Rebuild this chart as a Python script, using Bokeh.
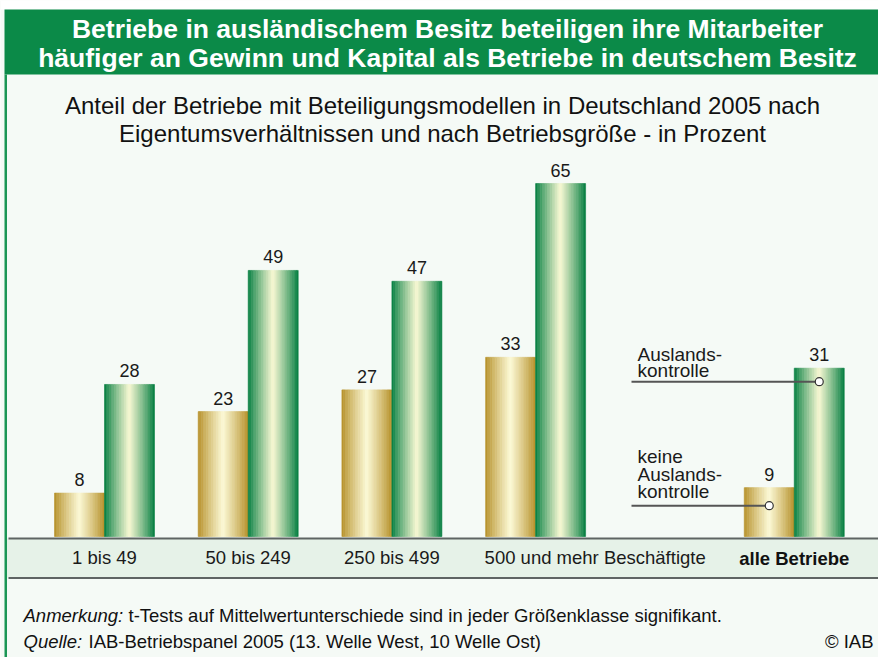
from bokeh.plotting import figure
from bokeh.models import Range1d, ColumnDataSource, BoxAnnotation
from bokeh.embed import file_html
from bokeh.resources import INLINE
from bokeh.core.properties import value

# ---------------- data ----------------
categories = ["1 bis 49", "50 bis 249", "250 bis 499", "500 und mehr Beschäftigte", "alle Betriebe"]
keine_auslandskontrolle = [8, 23, 27, 33, 9]
auslandskontrolle = [28, 49, 47, 65, 31]
group_pos = [0, 1, 2, 3, 4.8]

title_lines = ["Betriebe in ausländischem Besitz beteiligen ihre Mitarbeiter",
               "häufiger an Gewinn und Kapital als Betriebe in deutschem Besitz"]
subtitle_lines = ["Anteil der Betriebe mit Beteiligungsmodellen in Deutschland 2005 nach",
                  "Eigentumsverhältnissen und nach Betriebsgröße - in Prozent"]

# ---------------- layout helpers ----------------
W, H = 878, 657
X0PX, XSTEP = 104.0, 143.7   # pixel of first group centre, pixels per group step
Y0PX, YSTEP = 536.0, 5.43    # pixel of bar baseline, pixels per percent


def dx(px):
    return (px - X0PX) / XSTEP


def dy(py):
    return (Y0PX - py) / YSTEP


FONT = value("Liberation Sans")
BW = 50.0 / XSTEP  # bar width in data units

p = figure(width=W, height=H, x_range=Range1d(dx(0), dx(W)), y_range=Range1d(dy(H), dy(0)),
           output_backend="svg", toolbar_location=None, min_border=0,
           x_axis_location=None, y_axis_location=None)
p.grid.visible = False
p.outline_line_color = None
p.background_fill_color = "#f5faf6"
p.border_fill_color = "#f5faf6"

# top white strip, header box, left border
p.add_layout(BoxAnnotation(left=dx(0), right=dx(W + 5), top=dy(-5), bottom=dy(9),
                           fill_color="white", fill_alpha=1, line_color=None, level="underlay"))
p.add_layout(BoxAnnotation(left=dx(4), right=dx(W + 5), top=dy(9), bottom=dy(74),
                           fill_color="#0b8a48", fill_alpha=1, line_color=None, level="underlay"))
p.add_layout(BoxAnnotation(left=dx(4), right=dx(6.5), top=dy(74), bottom=dy(H + 5),
                           fill_color="#1b9655", fill_alpha=1, line_color=None, level="underlay"))

# category band
p.add_layout(BoxAnnotation(left=dx(6.5), right=dx(W + 5), top=dy(538), bottom=dy(577),
                           fill_color="#e6f2e8", fill_alpha=1, line_color=None, level="underlay"))
p.segment(x0=[dx(8), dx(8)], x1=[dx(W + 5), dx(W + 5)], y0=[dy(538), dy(577.5)], y1=[dy(538), dy(577.5)],
          line_color="#5e6463", line_width=2)


# ---------------- gradient bars ----------------
def mix(c1, c2, t):
    return "#%02x%02x%02x" % tuple(int(round(a + (b - a) * t)) for a, b in zip(c1, c2))


GOLD_EDGE = (181, 142, 38)
GOLD_MID = (252, 250, 214)
GREEN_EDGE = (0, 124, 62)
GREEN_MID = (250, 249, 212)
N = 30

strips = dict(left=[], right=[], top=[], bottom=[], color=[])
for pos, v_k, v_a in zip(group_pos, keine_auslandskontrolle, auslandskontrolle):
    for left, val, edge, mid in ((pos - BW, v_k, GOLD_EDGE, GOLD_MID), (pos, v_a, GREEN_EDGE, GREEN_MID)):
        for i in range(N):
            u = (i + 0.5) / N
            t = max(0.0, 1 - abs(2 * u - 1)) ** 0.9
            strips["left"].append(left + i * BW / N)
            strips["right"].append(left + (i + 1) * BW / N)
            strips["bottom"].append(0)
            strips["top"].append(val)
            strips["color"].append(mix(edge, mid, t))
p.quad(left="left", right="right", top="top", bottom="bottom", fill_color="color",
       line_color="color", line_width=0.6, source=ColumnDataSource(strips))

# value labels (y given is the visual centre of the digits)
GAP = 13.5 / YSTEP
lab_x = [pp - BW / 2 for pp in group_pos] + [pp + BW / 2 for pp in group_pos]
lab_y = [v + GAP for v in keine_auslandskontrolle] + [v + GAP for v in auslandskontrolle]
lab_t = [str(v) for v in keine_auslandskontrolle] + [str(v) for v in auslandskontrolle]
p.text(x=lab_x, y=lab_y, text=lab_t, text_font=FONT, text_font_size="18px", text_color="#1a1a1a",
       text_align="center", text_baseline="alphabetic")

# category labels
cat_x = [pp if i != 3 else pp - BW - 1 / XSTEP for i, pp in enumerate(group_pos)]
cat_align = ["center", "center", "center", "left", "center"]
p.text(x=cat_x[:4], y=[dy(557)] * 4, text=categories[:4], text_align=cat_align[:4],
       text_font=FONT, text_font_size="18.5px", text_color="#1a1a1a", text_baseline="alphabetic")
p.text(x=[cat_x[4]], y=[dy(558)], text=[categories[4]], text_align="center",
       text_font=FONT, text_font_size="18.5px", text_font_style="bold", text_color="#111111",
       text_baseline="alphabetic")

# leader lines for the "alle Betriebe" group
last = group_pos[-1]
anchor_x = [last - BW / 2, last + BW / 2]
anchor_y = [keine_auslandskontrolle[-1] - 18 / YSTEP, auslandskontrolle[-1] - 13.5 / YSTEP]
p.segment(x0=[dx(631)] * 2, x1=anchor_x, y0=anchor_y, y1=anchor_y, line_color="#555555", line_width=2)
p.scatter(x=anchor_x, y=anchor_y, size=8, marker="circle", fill_color="white", line_color="#333333",
          line_width=1.2)
p.text(x=[dx(637)] * 5, y=[dy(354), dy(370), dy(456), dy(474), dy(491)],
       text=["Auslands-", "kontrolle", "keine", "Auslands-", "kontrolle"],
       text_font=FONT, text_font_size="19px", text_color="#1a1a1a", text_baseline="alphabetic")

# header title
p.text(x=[dx(447)] * 2, y=[dy(28), dy(57)], text=title_lines, text_align="center",
       text_font=FONT, text_font_size="26.5px", text_font_style="bold", text_color="white",
       text_baseline="alphabetic")

# subtitle
p.text(x=[dx(442)] * 2, y=[dy(105), dy(133)], text=subtitle_lines, text_align="center",
       text_font=FONT, text_font_size="24px", text_color="#111111", text_baseline="alphabetic")

# footnotes
p.text(x=[dx(23), dx(23)], y=[dy(614.5), dy(640.5)], text=["Anmerkung:", "Quelle:"],
       text_font=FONT, text_font_size="18.5px", text_font_style="italic", text_color="#111111",
       text_baseline="alphabetic")
p.text(x=[dx(128), dx(88)], y=[dy(614.5), dy(640.5)],
       text=["t-Tests auf Mittelwertunterschiede sind in jeder Größenklasse signifikant.",
             "IAB-Betriebspanel 2005 (13. Welle West, 10 Welle Ost)"],
       text_font=FONT, text_font_size="18.5px", text_color="#111111", text_baseline="alphabetic")
p.text(x=[dx(873)], y=[dy(640.5)], text=["© IAB"], text_align="right",
       text_font=FONT, text_font_size="18.5px", text_color="#111111", text_baseline="alphabetic")

open("out.html", "w").write(file_html(p, INLINE))
